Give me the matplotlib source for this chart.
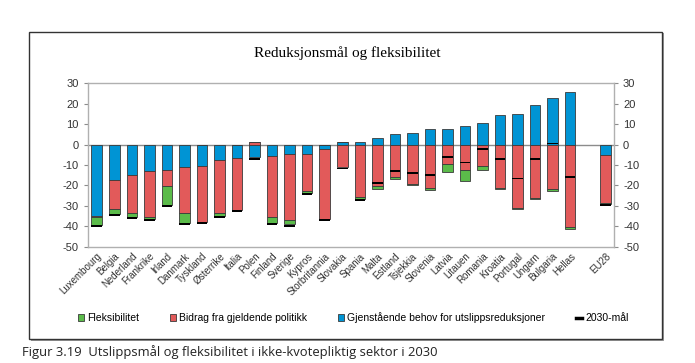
import numpy as np
import matplotlib.pyplot as plt
from matplotlib.patches import Patch, Rectangle
from matplotlib.lines import Line2D

plt.rcParams['axes.unicode_minus'] = False

countries = ['Luxembourg', 'Belgia', 'Nederland', 'Frankrike', 'Irland', 'Danmark',
             'Tyskland', 'Østerrike', 'Italia', 'Polen', 'Finland', 'Sverige', 'Kypros',
             'Storbritannia', 'Slovakia', 'Spania', 'Malta', 'Estland', 'Tsjekkia',
             'Slovenia', 'Latvia', 'Litauen', 'Romania', 'Kroatia', 'Portugal', 'Ungarn',
             'Bulgaria', 'Hellas', 'EU28']
# Gjenstående behov for utslippsreduksjoner
gjenstaende = [-34.8, -17.4, -15.0, -12.8, -12.2, -11.2, -10.6, -7.8, -6.6, -6.3,
               -5.7, -4.4, -4.4, -2.4, 1.0, 1.2, 3.1, 4.9, 5.7, 7.5, 7.5, 9.0, 10.6,
               14.5, 15.0, 19.4, 22.6, 25.4, -5.0]
# Bidrag fra gjeldende politikk
bidrag = [-0.5, -14.3, -18.2, -22.5, -8.1, -22.0, -27.1, -25.5, -25.4, 1.0,
          -29.9, -32.2, -18.2, -33.9, -11.2, -25.8, -20.3, -15.8, -19.3, -21.0,
          -9.6, -12.5, -10.6, -21.0, -31.2, -26.3, -21.5, -40.2, -23.3]
# Fleksibilitet
fleks = [-3.8, -2.0, -2.1, -1.1, -9.0, -5.0, 0.0, -1.7, 0.0, 0.0,
         -2.6, -2.4, -1.0, 0.0, 0.0, -0.7, -1.6, -1.2, -0.3, -1.0,
         -3.7, -5.2, -1.6, -0.6, -0.5, -0.5, -1.1, -0.8, -0.8]
# 2030-mål
maal = [-39.6, -34.5, -35.8, -36.9, -29.8, -38.8, -38.2, -35.5, -32.6, -6.9,
        -38.8, -39.6, -24.1, -36.9, -11.7, -27.0, -18.8, -12.8, -13.9, -14.7,
        -6.0, -8.8, -2.0, -7.0, -16.6, -7.0, 0.5, -15.8, -29.6]

x = np.array(list(range(28)) + [29])
c_blue, c_red, c_green = '#0094d4', '#e25a5a', '#5bbb4a'
edge = '#3a3a3a'
w = 0.6

fig = plt.figure(figsize=(6.95, 3.63), dpi=100)
ax = fig.add_axes([0.1266, 0.3196, 0.7569, 0.4517])

# stack positives up and negatives down, like the spreadsheet does
pos = np.zeros(len(x))
neg = np.zeros(len(x))
for vals, col in [(gjenstaende, c_blue), (bidrag, c_red), (fleks, c_green)]:
    v = np.array(vals)
    bottom = np.where(v >= 0, pos, neg)
    ax.bar(x, v, w, bottom=bottom, color=col, edgecolor=edge, linewidth=0.6, zorder=2)
    pos += np.where(v >= 0, v, 0)
    neg += np.where(v < 0, v, 0)

ax.bar(x, 0.9, w, bottom=np.array(maal) - 0.45, color='black', linewidth=0, zorder=3)
ax.axhline(0, color='#8c8c8c', linewidth=1, zorder=1)

ax.set_xlim(-0.5, 29.5)
ax.set_ylim(-50, 30)
ax.set_yticks(range(-50, 31, 10))
ax.set_xticks(x)
ax.set_xticklabels(countries, rotation=45, ha='right', rotation_mode='anchor',
                   fontsize=7, family='Liberation Sans', color='#333333')
ax.tick_params(axis='x', length=0, pad=3)
ax.tick_params(axis='y', labelsize=8, length=3, color='#8c8c8c', direction='out',
               labelcolor='#333333',
               left=True, right=True, labelleft=True, labelright=True)
for lab in ax.get_yticklabels():
    lab.set_family('Liberation Sans')
for s in ax.spines.values():
    s.set_color('#b0b0b0')
    s.set_linewidth(1)

fig.text(0.5, 0.855, 'Reduksjonsmål og fleksibilitet', ha='center', va='center',
         fontsize=11, family='Liberation Serif')

handles = [Patch(facecolor=c_green, edgecolor=edge, linewidth=0.6),
           Patch(facecolor=c_red, edgecolor=edge, linewidth=0.6),
           Patch(facecolor=c_blue, edgecolor=edge, linewidth=0.6),
           Line2D([], [], color='black', linewidth=2.5)]
labels = ['Fleksibilitet', 'Bidrag fra gjeldende politikk',
          'Gjenstående behov for utslippsreduksjoner', '2030-mål']
fig.legend(handles, labels, loc='center', bbox_to_anchor=(0.508, 0.124), ncol=4,
           frameon=False, prop={'family': 'Liberation Sans', 'size': 7.5},
           handlelength=0.6, handleheight=0.6, handletextpad=0.25, columnspacing=3.0)

# outer frame with a little shadow
fig.patches.append(Rectangle((0.044, 0.060), 0.912, 0.848, transform=fig.transFigure,
                             facecolor='#9a9a9a', edgecolor='none', zorder=-2))
fig.patches.append(Rectangle((0.042, 0.066), 0.910, 0.846, transform=fig.transFigure,
                             facecolor='white', edgecolor='#333333', linewidth=1, zorder=-1))

fig.text(0.032, 0.030, 'Figur 3.19  Utslippsmål og fleksibilitet i ikke-kvotepliktig sektor i 2030',
         ha='left', va='center', fontsize=9.4, family='Open Sans', color='#222222')

fig.savefig('out.png', dpi=100)
